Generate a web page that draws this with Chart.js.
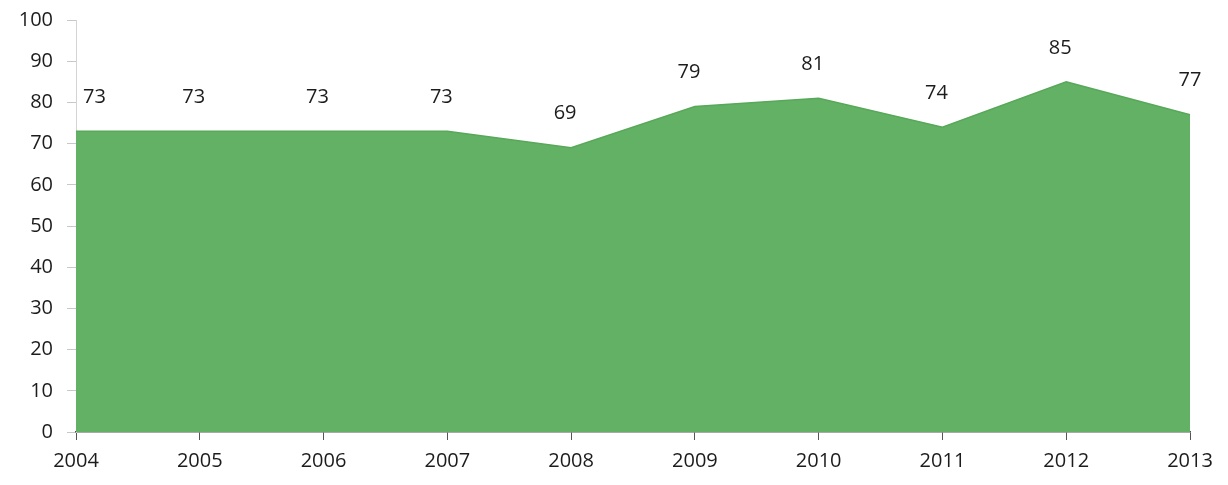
<!DOCTYPE html>
<html lang="en">
<head>
<meta charset="UTF-8">
<title>Area chart 2004-2013</title>
<script src="https://cdn.jsdelivr.net/npm/chart.js"></script>
<style>
  html, body { margin: 0; padding: 0; background: #ffffff; }
  .wrap { position: relative; width: 1228px; height: 485px; }
</style>
</head>
<body>
<div class="wrap"><canvas id="chart"></canvas></div>
<script>
// data
const years = ['2004', '2005', '2006', '2007', '2008', '2009', '2010', '2011', '2012', '2013'];
const values = [73, 73, 73, 73, 69, 79, 81, 74, 85, 77];
const yTicks = [0, 10, 20, 30, 40, 50, 60, 70, 80, 90, 100];

const FONT = '"Open Sans", "Liberation Sans", sans-serif';

// value labels above each point
const valueLabels = {
    id: 'valueLabels',
    afterDatasetsDraw(chart) {
        const ctx = chart.ctx;
        const meta = chart.getDatasetMeta(0);
        ctx.save();
        ctx.font = '20px ' + FONT;
        ctx.fillStyle = '#1c1c1c';
        ctx.textBaseline = 'middle';
        meta.data.forEach((pt, i) => {
            let x = pt.x;
            ctx.textAlign = 'center';
            if (i === 0) { ctx.textAlign = 'left'; x += 7; }
            else if (i < values.length - 1) { x -= 6; }
            ctx.fillText(String(values[i]), x, pt.y - 34);
        });
        ctx.restore();
    }
};

new Chart(document.getElementById('chart'), {
    type: 'line',
    data: {
        labels: years,
        datasets: [{
            data: values,
            fill: 'origin',
            backgroundColor: '#63b165',
            borderColor: '#58a85a',
            borderWidth: 1.5,
            pointRadius: 0,
            tension: 0
        }]
    },
    options: {
        responsive: true,
        maintainAspectRatio: false,
        animation: false,
        layout: { padding: { top: 20, right: 38, bottom: 0, left: 0 } },
        plugins: { legend: { display: false }, tooltip: { enabled: false } },
        scales: {
            x: {
                offset: false,
                afterFit(s) { s.height = 53; s.paddingLeft = 0; s.paddingRight = 0; },
                grid: { drawOnChartArea: false, drawTicks: true, tickLength: 8, color: '#555' },
                border: { color: '#555', width: 1.5 },
                ticks: { color: '#1c1c1c', font: { family: FONT, size: 20 }, padding: 9, maxRotation: 0 }
            },
            y: {
                min: 0,
                max: 100,
                afterFit(s) { s.width = 76; s.paddingTop = 0; s.paddingBottom = 0; },
                afterBuildTicks(s) { s.ticks = yTicks.map(v => ({ value: v })); },
                grid: { drawOnChartArea: false, drawTicks: true, tickLength: 9, color: '#c8c8c8' },
                border: { color: '#d4d4d4', width: 1 },
                ticks: { color: '#1c1c1c', font: { family: FONT, size: 20 }, padding: 14 }
            }
        }
    },
    plugins: [valueLabels]
});
</script>
</body>
</html>
